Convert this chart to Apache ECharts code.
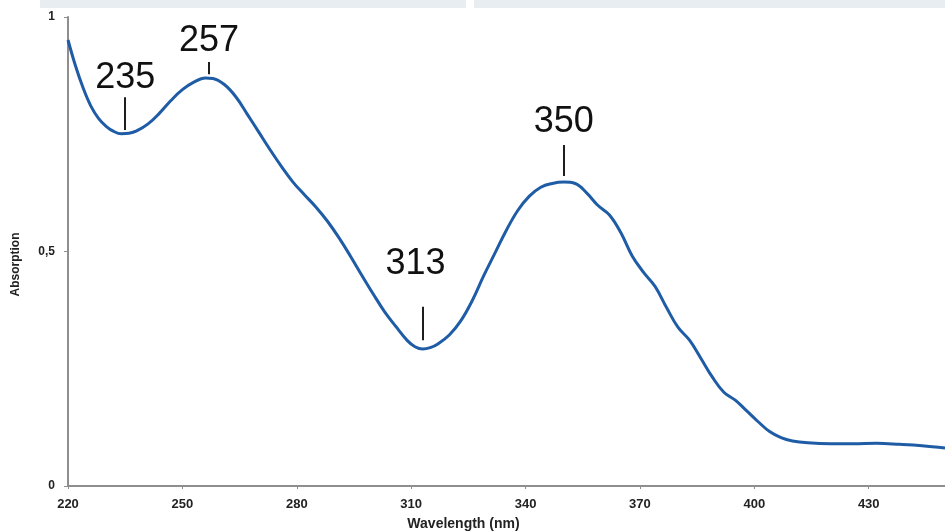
<!DOCTYPE html>
<html>
<head>
<meta charset="utf-8">
<script src="https://cdn.jsdelivr.net/npm/echarts@6/dist/echarts.min.js"></script>
<style>
  html, body { margin: 0; padding: 0; background: #ffffff; }
  #chart { width: 945px; height: 532px; }
</style>
</head>
<body>
<div id="chart"></div>
<script>
// UV-Vis absorption spectrum
const wavelength = [220,222,224,226,228,230,232,234,236,238,241,244,247,250,253,256,258,261,264,267,270,273,276,279,282,285,288,291,294,297,300,303,306,309,311,313,315,317,320,323,326,329,332,335,338,341,344,347,350,353,356,359,362,365,368,371,374,377,380,383,386,389,392,395,398,401,404,407,410,414,420,426,432,438,444,450];
const absorption = [0.951,0.895,0.848,0.810,0.784,0.767,0.756,0.751,0.752,0.757,0.772,0.795,0.822,0.845,0.861,0.870,0.869,0.856,0.830,0.793,0.755,0.717,0.681,0.648,0.621,0.595,0.565,0.530,0.491,0.450,0.410,0.372,0.340,0.310,0.297,0.292,0.295,0.303,0.322,0.352,0.395,0.448,0.497,0.546,0.588,0.618,0.637,0.645,0.648,0.645,0.625,0.598,0.578,0.540,0.490,0.455,0.425,0.380,0.338,0.311,0.272,0.232,0.200,0.183,0.160,0.137,0.116,0.103,0.096,0.092,0.090,0.090,0.091,0.089,0.086,0.081];

// Band positions (nm) marked on the curve, with the span of each marker stroke
const bandNm = [235, 257, 313, 350];
const markerLow = [0.759, 0.878, 0.311, 0.661];
const markerHigh = [0.829, 0.904, 0.382, 0.727];
const bandLabelY = [0.870, 0.949, 0.473, 0.776];

const xTicks = { min: 220, max: 450, step: 30 };
const yTicks = { min: 0, max: 1, step: 0.5 };

const points = wavelength.map((w, i) => [w, absorption[i]]);

const chart = echarts.init(document.getElementById('chart'), null, { renderer: 'canvas' });

const labelFont = 'Liberation Sans, Arial, sans-serif';

chart.setOption({
  animation: false,
  backgroundColor: '#ffffff',
  grid: { left: 68, right: 0, top: 17, bottom: 46, containLabel: false, outerBoundsMode: 'none' },
  graphic: [
    { type: 'rect', shape: { x: 40, y: 0, width: 426, height: 8 }, style: { fill: '#e8edf2' }, silent: true },
    { type: 'rect', shape: { x: 474, y: 0, width: 471, height: 8 }, style: { fill: '#e8edf2' }, silent: true }
  ],
  xAxis: {
    type: 'value',
    min: xTicks.min,
    max: xTicks.max,
    interval: xTicks.step,
    name: 'Wavelength (nm)',
    nameLocation: 'middle',
    nameGap: 31,
    nameTextStyle: {
      fontFamily: labelFont, fontWeight: 'bold', fontSize: 14, color: '#222',
      padding: [0, 86, 0, 0]
    },
    axisLine: { show: true, lineStyle: { color: '#8e8e8e', width: 2 } },
    axisTick: { show: true, length: 3, lineStyle: { color: '#8e8e8e', width: 1 } },
    axisLabel: {
      showMaxLabel: false,
      margin: 12,
      fontFamily: labelFont, fontWeight: 'bold', fontSize: 13, color: '#222'
    },
    splitLine: { show: false }
  },
  yAxis: {
    type: 'value',
    min: yTicks.min,
    max: yTicks.max,
    interval: yTicks.step,
    name: 'Absorption',
    nameLocation: 'middle',
    nameRotate: 90,
    nameGap: 46,
    nameTextStyle: {
      fontFamily: labelFont, fontWeight: 'bold', fontSize: 12, color: '#222',
      padding: [0, 26, 0, 0]
    },
    axisLine: { show: true, lineStyle: { color: '#8e8e8e', width: 2 } },
    axisTick: { show: true, length: 4, lineStyle: { color: '#8e8e8e', width: 1 } },
    axisLabel: {
      margin: 13,
      fontFamily: labelFont, fontWeight: 'bold', fontSize: 12, color: '#222',
      formatter: v => String(v).replace('.', ',')
    },
    splitLine: { show: false }
  },
  series: [{
    type: 'line',
    data: points,
    smooth: 0.4,
    showSymbol: false,
    lineStyle: { color: '#1f5ca6', width: 3 },
    markLine: {
      silent: true,
      symbol: 'none',
      label: { show: false },
      lineStyle: { color: '#1e1e1e', width: 2, type: 'solid' },
      data: bandNm.map((w, i) => [
        { coord: [w, markerLow[i]] },
        { coord: [w, markerHigh[i]] }
      ])
    },
    markPoint: {
      silent: true,
      symbol: 'circle',
      symbolSize: 1,
      itemStyle: { color: 'rgba(0,0,0,0)' },
      label: {
        show: true,
        position: 'inside',
        fontFamily: labelFont,
        fontSize: 36,
        color: '#111',
        formatter: p => p.name
      },
      data: bandNm.map((w, i) => ({
        name: String(w),
        coord: [w, bandLabelY[i]],
        label: w === 313 ? { offset: [-7, 0] } : {}
      }))
    }
  }]
});
</script>
</body>
</html>
